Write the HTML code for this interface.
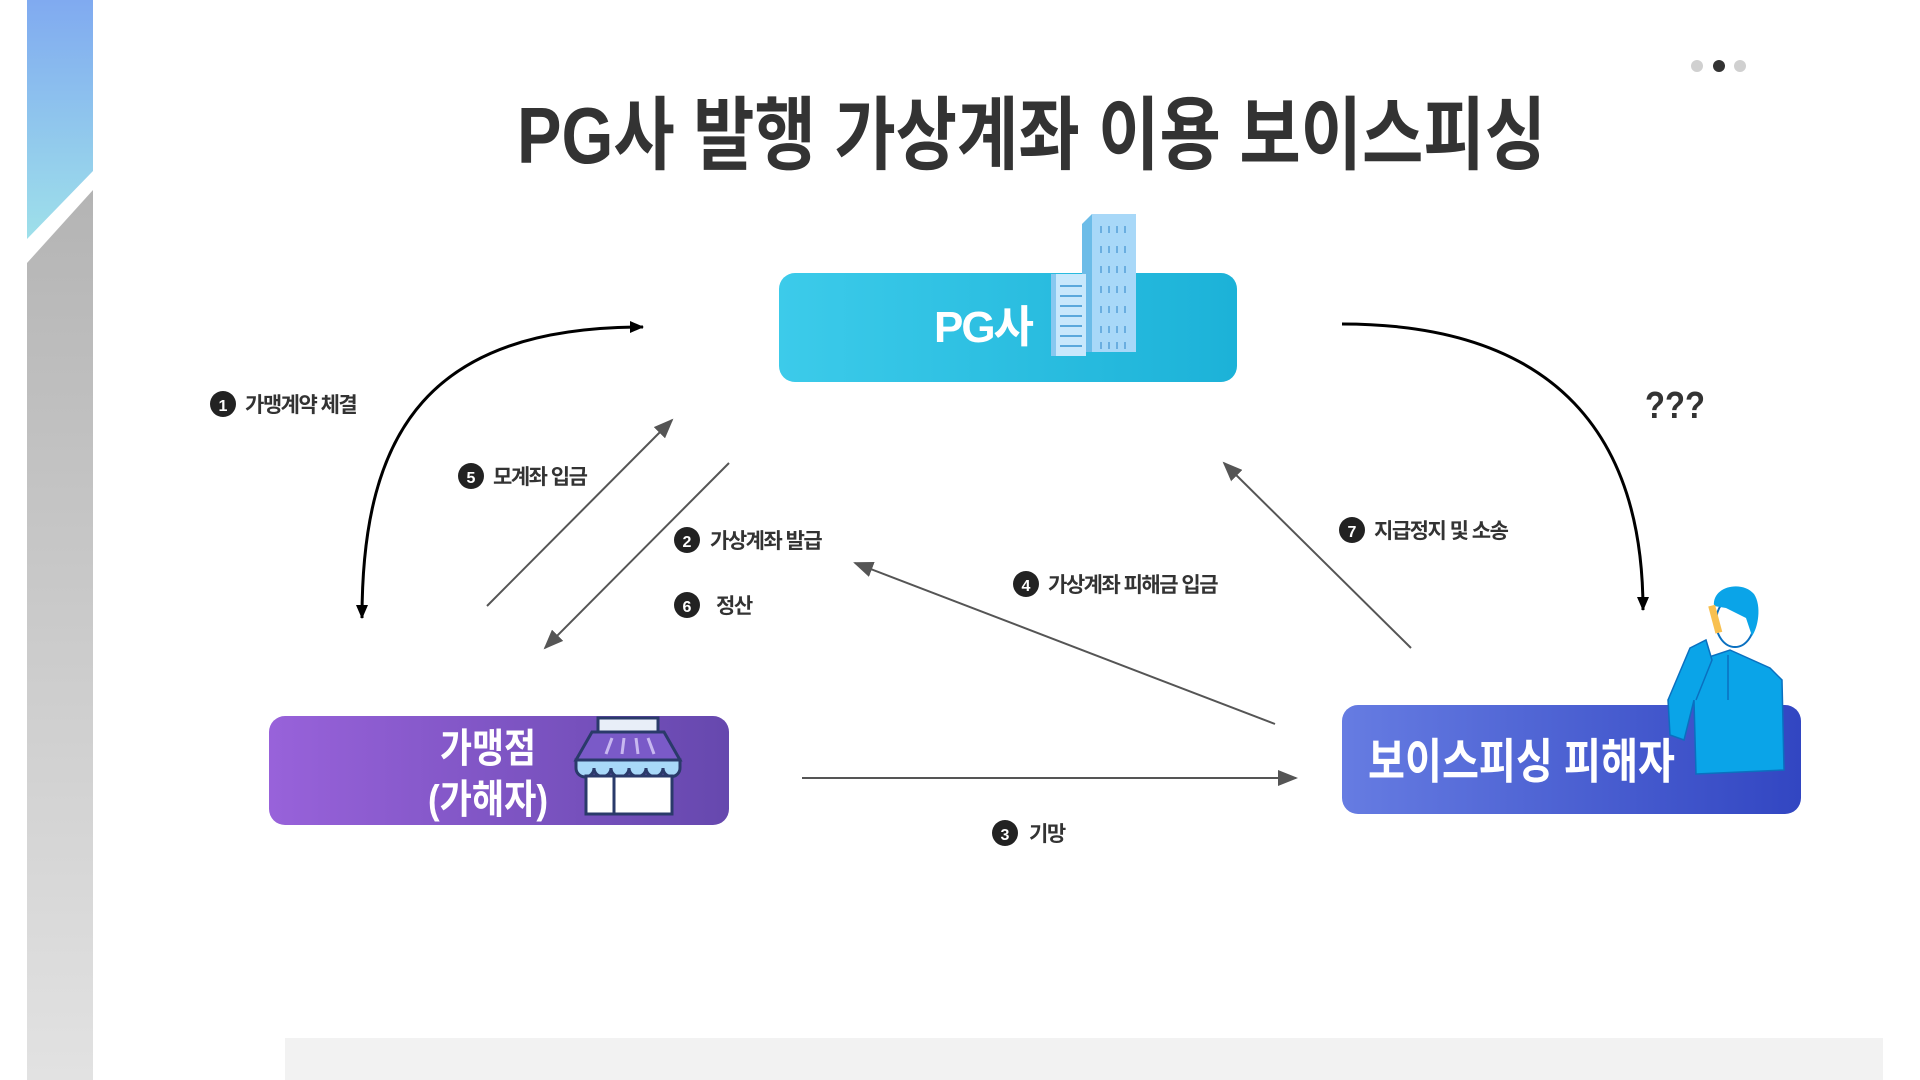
<!DOCTYPE html>
<html><head><meta charset="utf-8"><style>
html,body{margin:0;padding:0;background:#fff;}
svg{display:block;}
text{font-family:"Liberation Sans","Noto Sans CJK KR",sans-serif;}
</style></head><body>
<svg width="1920" height="1080" viewBox="0 0 1920 1080" xmlns="http://www.w3.org/2000/svg">
<defs>
<linearGradient id="gb" x1="0" y1="0" x2="0" y2="1"><stop offset="0" stop-color="#80aaf0"/><stop offset="1" stop-color="#9ee0ea"/></linearGradient>
<linearGradient id="gg" x1="0" y1="0" x2="0" y2="1"><stop offset="0" stop-color="#b4b4b4"/><stop offset="1" stop-color="#e2e2e2"/></linearGradient>
<linearGradient id="gpg" x1="0" y1="0" x2="1" y2="0"><stop offset="0" stop-color="#3ccbea"/><stop offset="1" stop-color="#1cb2d8"/></linearGradient>
<linearGradient id="gm" x1="0" y1="0" x2="1" y2="0"><stop offset="0" stop-color="#9862da"/><stop offset="1" stop-color="#6648ae"/></linearGradient>
<linearGradient id="gv" x1="0" y1="0" x2="1" y2="0"><stop offset="0" stop-color="#667ce2"/><stop offset="1" stop-color="#3246c2"/></linearGradient>
<marker id="ag" markerWidth="20" markerHeight="16" refX="18" refY="8" orient="auto" markerUnits="userSpaceOnUse"><path d="M0,0 L20,8 L0,16 z" fill="#555"/></marker>
<marker id="ab2" markerWidth="14" markerHeight="12" refX="13" refY="6" orient="auto" markerUnits="userSpaceOnUse"><path d="M0,0 L14,6 L0,12 z" fill="#000"/></marker>
<marker id="ab2s" markerWidth="14" markerHeight="12" refX="1" refY="6" orient="auto" markerUnits="userSpaceOnUse"><path d="M14,0 L0,6 L14,12 z" fill="#000"/></marker>
</defs>
<polygon points="27,0 93,0 93,171 27,239" fill="url(#gb)"/>
<polygon points="27,263 93,190 93,1080 27,1080" fill="url(#gg)"/>
<circle cx="1697" cy="66" r="6" fill="#d0d0d0"/><circle cx="1719" cy="66" r="6" fill="#333"/><circle cx="1740" cy="66" r="6" fill="#d0d0d0"/>
<text x="517" y="163" font-size="80" font-weight="bold" fill="#333" textLength="1029" lengthAdjust="spacingAndGlyphs">PG사 발행 가상계좌 이용 보이스피싱</text>
<rect x="285" y="1038" width="1598" height="42" fill="#f2f2f2"/>
<rect x="779" y="273" width="458" height="109" rx="16" fill="url(#gpg)"/>
<text x="983" y="342" font-size="44" font-weight="bold" fill="#fff" text-anchor="middle" letter-spacing="-2">PG사</text>
<rect x="1092" y="214" width="44" height="138" fill="#a8d8f8"/>
<polygon points="1082,224 1092,214 1092,352 1082,352" fill="#6cbce8"/>
<rect x="1054" y="274" width="32" height="82" fill="#c8e8fc"/>
<rect x="1051" y="274" width="5" height="82" fill="#88c8f0"/>
<g fill="#5aa8dc">
<rect x="1060" y="285" width="22" height="2"/><rect x="1060" y="295" width="22" height="2"/><rect x="1060" y="305" width="22" height="2"/><rect x="1060" y="315" width="22" height="2"/><rect x="1060" y="325" width="22" height="2"/><rect x="1060" y="335" width="22" height="2"/><rect x="1060" y="345" width="22" height="2"/>
</g>
<g fill="#6aaee0">
<rect x="1100" y="226" width="2" height="7"/><rect x="1108" y="226" width="2" height="7"/><rect x="1116" y="226" width="2" height="7"/><rect x="1124" y="226" width="2" height="7"/>
<rect x="1100" y="246" width="2" height="7"/><rect x="1108" y="246" width="2" height="7"/><rect x="1116" y="246" width="2" height="7"/><rect x="1124" y="246" width="2" height="7"/>
<rect x="1100" y="266" width="2" height="7"/><rect x="1108" y="266" width="2" height="7"/><rect x="1116" y="266" width="2" height="7"/><rect x="1124" y="266" width="2" height="7"/>
<rect x="1100" y="286" width="2" height="7"/><rect x="1108" y="286" width="2" height="7"/><rect x="1116" y="286" width="2" height="7"/><rect x="1124" y="286" width="2" height="7"/>
<rect x="1100" y="306" width="2" height="7"/><rect x="1108" y="306" width="2" height="7"/><rect x="1116" y="306" width="2" height="7"/><rect x="1124" y="306" width="2" height="7"/>
<rect x="1100" y="326" width="2" height="7"/><rect x="1108" y="326" width="2" height="7"/><rect x="1116" y="326" width="2" height="7"/><rect x="1124" y="326" width="2" height="7"/>
<rect x="1100" y="342" width="2" height="7"/><rect x="1108" y="342" width="2" height="7"/><rect x="1116" y="342" width="2" height="7"/><rect x="1124" y="342" width="2" height="7"/>
</g>
<rect x="269" y="716" width="460" height="109" rx="16" fill="url(#gm)"/>
<text x="488" y="762" font-size="40" font-weight="bold" fill="#fff" text-anchor="middle" textLength="96" lengthAdjust="spacingAndGlyphs">가맹점</text>
<text x="488" y="813" font-size="40" font-weight="bold" fill="#fff" text-anchor="middle" textLength="120" lengthAdjust="spacingAndGlyphs">(가해자)</text>
<rect x="598" y="718" width="60" height="14" fill="#e8eef8" stroke="#2a3a6a" stroke-width="3"/>
<polygon points="592,732 664,732 680,760 576,760" fill="#7a5ac8" stroke="#2a3a6a" stroke-width="3"/>
<g stroke="#c8b8f0" stroke-width="3"><line x1="612" y1="738" x2="606" y2="754"/><line x1="624" y1="738" x2="622" y2="754"/><line x1="636" y1="738" x2="638" y2="754"/><line x1="648" y1="738" x2="654" y2="754"/></g>
<path d="M576,760 h104 v8 a8,8 0 0 1 -17,0 a8,8 0 0 1 -17,0 a8,8 0 0 1 -17,0 a8,8 0 0 1 -18,0 a8,8 0 0 1 -17,0 a8,8 0 0 1 -18,0 z" fill="#a8d8f8" stroke="#2a3a6a" stroke-width="3"/>
<rect x="586" y="776" width="86" height="38" fill="#fff" stroke="#2a3a6a" stroke-width="3"/>
<line x1="614" y1="776" x2="614" y2="814" stroke="#2a3a6a" stroke-width="3"/>
<rect x="1342" y="705" width="459" height="109" rx="16" fill="url(#gv)"/>
<text x="1368" y="778" font-size="48" font-weight="bold" fill="#fff" textLength="307" lengthAdjust="spacingAndGlyphs">보이스피싱 피해자</text>
<path d="M1700,660 L1730,650 L1770,668 L1782,680 L1784,770 L1696,774 L1694,700 L1684,740 L1670,735 L1668,700 Z" fill="#0aa4e8" stroke="#0a70c0" stroke-width="1.5"/>
<path d="M1668,700 L1690,648 L1706,640 L1712,660 L1696,700" fill="#0aa4e8" stroke="#0a70c0" stroke-width="1.5"/>
<ellipse cx="1735" cy="622" rx="19" ry="25" fill="#fff" stroke="#0a70c0" stroke-width="2"/>
<path d="M1714,606 C1712,586 1742,580 1754,594 C1762,606 1758,628 1752,636 L1746,618 L1726,608 Z" fill="#0aa4e8"/>
<rect x="1712" y="605" width="7" height="28" fill="#f8c050" transform="rotate(-15 1716 620)"/>
<line x1="1728" y1="655" x2="1728" y2="700" stroke="#0a70c0" stroke-width="1.5"/>
<path d="M362,618 C362,430 430,327 643,327" fill="none" stroke="#000" stroke-width="3" marker-end="url(#ab2)" marker-start="url(#ab2s)"/>
<path d="M1342,324 C1560,324 1643,440 1643,610" fill="none" stroke="#000" stroke-width="3" marker-end="url(#ab2)"/>
<line x1="487" y1="606" x2="672" y2="420" stroke="#555" stroke-width="2" marker-end="url(#ag)"/>
<line x1="729" y1="463" x2="545" y2="648" stroke="#555" stroke-width="2" marker-end="url(#ag)"/>
<line x1="1275" y1="724" x2="855" y2="563" stroke="#555" stroke-width="2" marker-end="url(#ag)"/>
<line x1="1411" y1="648" x2="1224" y2="463" stroke="#555" stroke-width="2" marker-end="url(#ag)"/>
<line x1="802" y1="778" x2="1296" y2="778" stroke="#555" stroke-width="2" marker-end="url(#ag)"/>
<g font-size="21" font-weight="bold" fill="#333" letter-spacing="-1.5">
<circle cx="223" cy="404" r="13" fill="#222"/><text x="223" y="411" font-size="16" fill="#fff" text-anchor="middle" letter-spacing="0">1</text>
<text x="245" y="412">가맹계약 체결</text>
<circle cx="471" cy="476" r="13" fill="#222"/><text x="471" y="483" font-size="16" fill="#fff" text-anchor="middle" letter-spacing="0">5</text>
<text x="493" y="484">모계좌 입금</text>
<circle cx="687" cy="540" r="13" fill="#222"/><text x="687" y="547" font-size="16" fill="#fff" text-anchor="middle" letter-spacing="0">2</text>
<text x="710" y="548">가상계좌 발급</text>
<circle cx="687" cy="605" r="13" fill="#222"/><text x="687" y="612" font-size="16" fill="#fff" text-anchor="middle" letter-spacing="0">6</text>
<text x="716" y="613">정산</text>
<circle cx="1026" cy="584" r="13" fill="#222"/><text x="1026" y="591" font-size="16" fill="#fff" text-anchor="middle" letter-spacing="0">4</text>
<text x="1048" y="592">가상계좌 피해금 입금</text>
<circle cx="1352" cy="530" r="13" fill="#222"/><text x="1352" y="537" font-size="16" fill="#fff" text-anchor="middle" letter-spacing="0">7</text>
<text x="1374" y="538">지급정지 및 소송</text>
<circle cx="1005" cy="833" r="13" fill="#222"/><text x="1005" y="840" font-size="16" fill="#fff" text-anchor="middle" letter-spacing="0">3</text>
<text x="1029" y="841">기망</text>
</g>
<text x="1645" y="418" font-size="38" font-weight="bold" fill="#333" textLength="60" lengthAdjust="spacingAndGlyphs">???</text>
</svg>
</body></html>
